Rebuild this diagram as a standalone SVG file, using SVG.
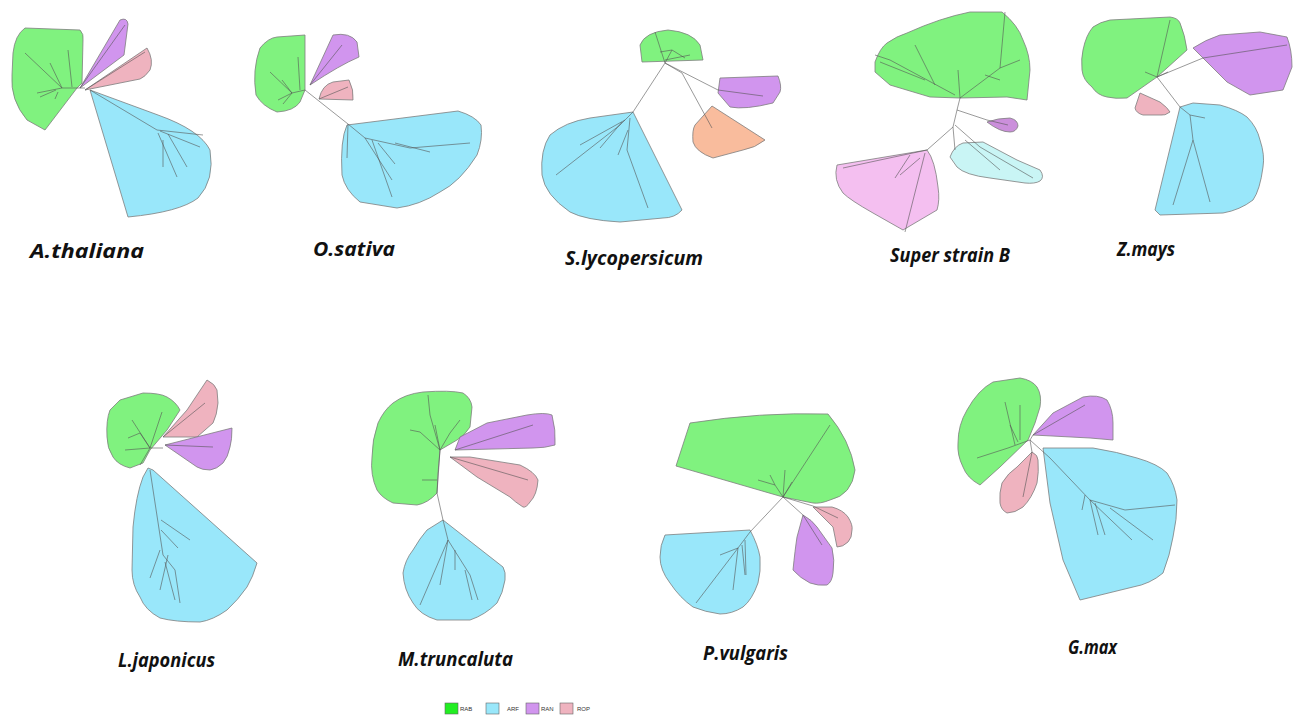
<svg xmlns="http://www.w3.org/2000/svg" width="1295" height="715" viewBox="0 0 1295 715">
<style>
.c{stroke:#7d7d7d;stroke-width:0.8;stroke-linejoin:round}
.rab{fill:#80f27f}
.arf{fill:#99e7fa}
.ran{fill:#d195ee}
.rop{fill:#efb3bf}
.org{fill:#f9bc9d}
.lil{fill:#f4bff0}
.pcy{fill:#c9f5f5}
.pur{fill:#cb8fdb}
.br{fill:none;stroke:#555;stroke-width:0.6}
.lbl{font-family:"Open Sans","Liberation Sans",sans-serif;font-weight:bold;font-style:italic;font-size:19px;fill:#111}
.lg{font-family:"Liberation Sans",Arial,sans-serif;font-size:6px;fill:#333}
</style>
<rect width="1295" height="715" fill="#fff"/>

<g id="t-athaliana">
<path class="c rab" d="M25,28 L80,30 Q84,34 83,40 L82,83 L77,88 L45,130 L27,120 Q10,100 12,75 L13,53 Q15,35 25,28 Z"/>
<path class="c ran" d="M80,88 L120,20 Q127,17 128,24 L124,55 Z"/>
<path class="c rop" d="M85,90 L147,48 Q154,60 150,70 Q145,77 140,79 Z"/>
<path class="c arf" d="M90,90 L158,115 Q200,130 210,150 Q215,180 198,198 Q180,212 128,217 Z"/>
<path class="br" d="M85,88 L62,88 L25,53 M62,88 L50,63 M72,87 L68,50 M62,88 L37,93 M58,92 L55,99 M56,90 L40,97 M80,88 L125,25 M85,90 L145,52 M90,90 L157,130 L203,135 M160,131 L200,147 M158,133 L177,177 M163,140 L163,167 M168,134 L187,167"/>
<text class="lbl" x="30" y="258" textLength="114" lengthAdjust="spacingAndGlyphs">A.thaliana</text>
</g>

<g id="t-osativa">
<path class="c rab" d="M260,48 Q268,38 277,37 L305,35 L305,90 L300,102 Q294,111 277,112 Q262,106 256,95 Q252,70 260,48 Z"/>
<path class="c ran" d="M310,85 L333,35 Q350,32 357,42 L359,57 Q340,65 310,85 Z"/>
<path class="c rop" d="M319,99 Q322,85 333,82 L349,80 Q354,90 353,100 Z"/>
<path class="c arf" d="M347,125 L458,111 Q475,116 481,125 Q483,140 477,155 Q460,182 440,192 Q420,205 397,208 L360,202 Q345,190 342,175 Q340,140 347,125 Z"/>
<path class="br" d="M305,90 L348,124 M305,90 L292,93 L270,72 M292,93 L282,80 M292,93 L278,100 M292,93 L283,104 M300,90 L298,57 M310,85 L342,45 M319,99 L348,87 M348,124 L365,138 L410,148 L470,143 M395,143 L430,152 M365,138 L392,180 M372,140 L392,197 M378,143 L395,164 M348,124 L347,158"/>
<text class="lbl" x="313" y="256" textLength="82" lengthAdjust="spacingAndGlyphs">O.sativa</text>
</g>

<g id="t-slycopersicum">
<path class="c rab" d="M642,62 L640,45 Q645,32 668,30 Q692,32 700,45 L703,60 Z"/>
<path class="c ran" d="M720,78 L778,76 Q782,86 780,92 L773,103 Q745,110 730,107 L718,93 Z"/>
<path class="c org" d="M712,106 L765,140 Q755,148 743,150 L713,158 Q696,152 693,142 Q692,130 695,125 Z"/>
<path class="c arf" d="M633,112 L682,210 Q675,218 663,218 L620,222 Q585,220 570,212 Q545,195 542,175 Q540,150 550,135 Q565,122 590,118 Z"/>
<path class="br" d="M665,63 L633,112 M665,63 L718,90 L763,96 M665,63 L682,73 L712,128 M665,63 L655,32 M665,63 L672,50 L660,52 M672,50 L685,58 M665,60 L690,55 M633,112 L620,125 L556,175 M625,120 L580,145 M622,122 L600,148 M630,118 L627,150 L648,208 M628,130 L618,155"/>
<text class="lbl" x="565" y="265" textLength="138" lengthAdjust="spacingAndGlyphs">S.lycopersicum</text>
</g>

<g id="t-superstrainb">
<path class="c rab" d="M875,62 Q880,48 887,43 Q897,36 907,33 Q940,18 970,12 L1002,12 Q1018,25 1023,40 Q1030,55 1030,70 L1027,100 L1007,97 L960,98 L930,97 L890,85 L875,72 Z"/>
<path class="c pur" d="M987,122 Q998,118 1010,118 Q1018,120 1018,126 Q1016,132 1010,132 Q1000,132 987,122 Z"/>
<path class="c pcy" d="M950,157 Q954,146 963,143 L983,142 L1017,160 L1040,170 Q1045,177 1040,181 Q1035,184 1025,183 L990,178 Q965,175 957,167 Z"/>
<path class="c lil" d="M837,165 L927,150 Q935,160 938,187 Q940,200 937,210 L903,230 L873,213 Q850,200 843,193 Q833,180 837,165 Z"/>
<path class="br" d="M957,110 L960,98 M957,110 L987,120 L1008,125 M957,110 L953,127 L927,150 M953,127 L955,150 M955,125 L980,147 L1033,178 M965,140 L1000,170 M927,150 L880,160 L843,168 M910,155 L895,178 M925,153 L905,232 M920,158 L900,175 M960,98 L1000,68 L1005,12 M1000,68 L1020,60 M985,75 L1000,80 M960,98 L958,70 M955,95 L890,60 L875,55 M935,85 L915,45 M925,80 L880,62"/>
<text class="lbl" x="890" y="262" textLength="120" lengthAdjust="spacingAndGlyphs">Super strain B</text>
</g>

<g id="t-zmays">
<path class="c rab" d="M1093,27 Q1100,22 1110,20 L1170,17 Q1178,18 1180,23 Q1185,35 1187,50 L1157,77 L1127,98 Q1115,99 1107,97 Q1097,95 1092,87 Q1083,80 1082,70 Q1081,58 1083,50 Q1086,35 1093,27 Z"/>
<path class="c ran" d="M1193,48 Q1205,40 1220,35 L1260,32 L1287,37 Q1292,50 1292,67 L1283,90 L1250,95 L1227,82 Z"/>
<path class="c rop" d="M1140,93 L1160,102 Q1168,108 1170,112 Q1165,116 1160,115 L1143,115 Q1136,113 1135,108 Z"/>
<path class="c arf" d="M1180,107 L1193,103 L1220,105 Q1238,110 1247,117 Q1257,127 1260,140 Q1265,155 1263,167 Q1260,190 1253,200 Q1240,210 1223,213 L1160,215 L1155,210 Z"/>
<path class="br" d="M1157,77 L1203,58 L1287,45 M1157,77 L1170,20 M1157,77 L1145,72 M1157,77 L1168,72 M1157,77 L1180,107 L1190,115 L1205,118 M1190,115 L1193,140 L1173,205 M1193,140 L1210,202"/>
<text class="lbl" x="1117" y="256" textLength="58" lengthAdjust="spacingAndGlyphs">Z.mays</text>
</g>

<g id="t-ljaponicus">
<path class="c rab" d="M120,400 L143,393 Q160,393 167,397 Q176,402 180,410 L167,430 L150,450 L143,463 L130,468 Q118,465 113,457 Q107,448 107,437 Q106,420 110,410 Z"/>
<path class="c rop" d="M163,437 L187,410 L207,380 Q215,384 217,390 L218,403 Q217,415 213,423 L197,437 Z"/>
<path class="c ran" d="M165,445 L232,428 Q232,440 230,447 Q228,457 223,463 Q217,469 210,470 Q202,470 197,467 Z"/>
<path class="c arf" d="M148,468 L153,470 L257,563 Q253,577 247,587 Q238,600 227,610 Q213,620 200,622 Q175,622 160,618 Q145,610 140,597 Q132,585 132,570 L133,527 Q136,495 143,477 Z"/>
<path class="br" d="M150,448 L163,448 M150,448 L132,420 M150,448 L125,450 M150,448 L140,433 L128,438 M150,448 L162,412 M150,448 L140,465 M163,437 L205,403 M165,445 L213,447 M150,470 L163,555 L175,570 L180,603 M161,520 L190,540 M161,530 L178,548 M160,550 L150,578 M165,562 L175,600 M168,555 L160,590"/>
<text class="lbl" x="118" y="667" textLength="97" lengthAdjust="spacingAndGlyphs">L.japonicus</text>
</g>

<g id="t-mtruncaluta">
<path class="c rab" d="M393,403 Q405,394 423,392 Q450,390 463,393 Q471,398 472,407 L470,427 Q465,435 457,440 L440,450 L438,473 L437,493 Q428,503 417,505 L393,503 Q382,498 377,490 Q370,475 372,457 Q372,440 378,423 Q384,410 393,403 Z"/>
<path class="c ran" d="M455,450 L460,437 L487,423 L527,415 Q545,412 552,415 Q556,430 555,445 Q545,448 533,448 Z"/>
<path class="c rop" d="M450,457 L470,457 L520,465 Q535,472 538,480 Q537,495 530,502 Q526,508 523,507 Q515,502 510,497 L477,477 Z"/>
<path class="c arf" d="M443,520 L503,567 Q506,572 505,580 Q503,593 497,603 Q485,615 470,620 L437,620 Q420,615 413,603 Q404,590 403,573 Q405,560 413,550 Q420,538 427,530 Z"/>
<path class="br" d="M440,450 L437,493 L443,520 M440,450 L450,433 L460,420 M440,450 L420,432 L410,430 M440,450 L430,415 L428,395 M440,450 L435,425 M437,480 L422,480 M455,450 L533,425 M450,457 L528,480 M443,520 L448,540 L420,605 M448,540 L440,585 M448,540 L470,575 L478,600 M455,550 L455,570 M465,570 L472,600"/>
<text class="lbl" x="398" y="666" textLength="115" lengthAdjust="spacingAndGlyphs">M.truncaluta</text>
</g>

<g id="t-pvulgaris">
<path class="c rab" d="M676,466 L690,423 Q760,412 828,414 Q850,440 855,470 Q852,495 830,500 Q820,504 813,503 L783,497 Z"/>
<path class="c rop" d="M813,507 L832,507 Q843,510 848,517 Q853,525 852,530 Q852,538 848,542 Q843,547 837,547 L833,527 Z"/>
<path class="c ran" d="M803,515 Q812,520 817,527 L832,548 Q835,560 833,573 Q832,582 827,585 Q818,586 810,583 Q800,578 793,570 Q795,550 797,537 Z"/>
<path class="c arf" d="M665,535 L750,530 Q758,545 760,557 Q761,572 758,583 Q752,600 743,607 Q732,614 720,614 Q705,612 693,607 Q680,598 670,583 Q660,570 660,557 Q660,545 665,535 Z"/>
<path class="br" d="M783,497 L830,425 M783,497 L775,485 L758,480 M775,485 L770,475 M783,497 L785,470 M783,497 L792,482 M783,497 L813,506 L838,518 M783,497 L803,515 L822,545 M783,497 L750,532 L735,552 L696,603 M738,548 L720,555 M738,548 L733,590 M742,545 L745,575 M745,540 L746,575"/>
<text class="lbl" x="703" y="660" textLength="85" lengthAdjust="spacingAndGlyphs">P.vulgaris</text>
</g>

<g id="t-gmax">
<path class="c rab" d="M993,382 L1020,378 Q1032,380 1037,387 Q1042,395 1040,407 L1035,423 L1028,440 L1000,467 L980,485 Q967,478 963,467 Q957,455 958,443 Q958,425 967,410 Q978,390 993,382 Z"/>
<path class="c ran" d="M1033,435 L1053,413 L1083,397 Q1098,394 1107,400 Q1113,410 1113,423 L1113,440 L1090,438 Z"/>
<path class="c rop" d="M1032,452 Q1038,455 1038,460 Q1039,472 1037,483 Q1032,498 1023,507 Q1015,513 1007,513 Q1001,510 1000,503 Q999,493 1002,483 Q1008,473 1017,467 Z"/>
<path class="c arf" d="M1043,448 L1093,448 Q1118,452 1137,458 Q1158,464 1167,473 Q1175,485 1177,500 Q1177,520 1173,537 Q1170,555 1163,573 Q1150,584 1133,587 L1080,600 L1063,560 L1050,503 Z"/>
<path class="br" d="M1030,440 L1008,448 L977,458 M1015,445 L1005,402 M1020,440 L1020,405 M1018,442 L1010,425 M1030,440 L1033,435 L1085,405 M1030,440 L1032,452 L1023,497 M1030,440 L1050,458 L1090,500 L1125,510 L1175,505 M1090,500 L1132,540 M1110,508 L1153,540 M1085,495 L1082,510 M1090,500 L1098,535 M1095,503 L1105,535"/>
<text class="lbl" x="1068" y="654" textLength="49" lengthAdjust="spacingAndGlyphs">G.max</text>
</g>

<g id="legend">
<rect x="445" y="703" width="13" height="11" fill="#22ee22" stroke="#666" stroke-width="0.6"/>
<text class="lg" x="460" y="711">RAB</text>
<rect x="486" y="703" width="13" height="11" fill="#99e7fa" stroke="#666" stroke-width="0.6"/>
<text class="lg" x="507" y="711">ARF</text>
<rect x="526" y="703" width="13" height="11" fill="#d195ee" stroke="#666" stroke-width="0.6"/>
<text class="lg" x="541" y="711">RAN</text>
<rect x="560" y="703" width="13" height="11" fill="#efb3bf" stroke="#666" stroke-width="0.6"/>
<text class="lg" x="577" y="711">ROP</text>
</g>
</svg>
